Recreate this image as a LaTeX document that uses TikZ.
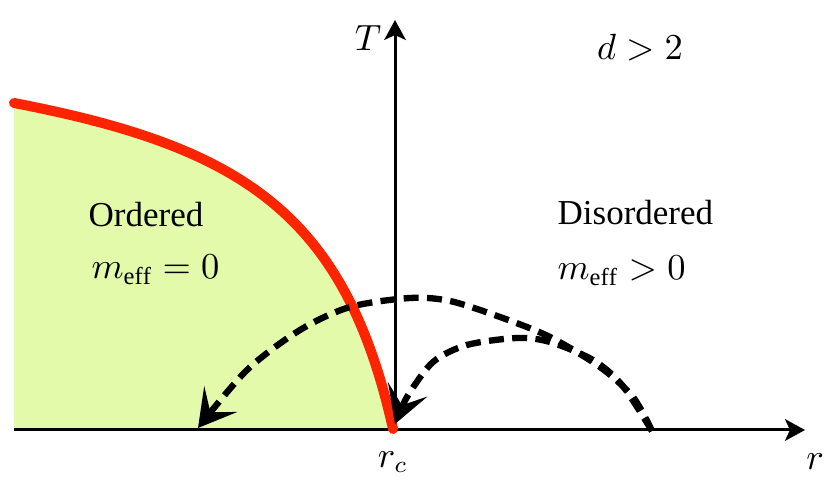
\documentclass[tikz,border=0pt]{standalone}
\usepackage{fontspec}
\setmainfont{Liberation Serif}
\usetikzlibrary{arrows.meta}
\definecolor{curvered}{RGB}{255,36,0}
\definecolor{ordfill}{RGB}{226,250,170}
\begin{document}
\begin{tikzpicture}[x=0.3pt,y=-0.3pt,
  axis/.style={line width=0.9pt, -{Stealth[length=6pt,width=6.5pt,inset=1.5pt]}},
  flow/.style={line width=1.9pt, dash pattern=on 4.5pt off 2.5pt, -{Stealth[length=11pt,width=12.5pt,inset=5pt]}},
  lbl/.style={inner sep=0pt, font=\fontsize{10.5}{12.6}\selectfont},
  crit/.style={line width=3pt, color=curvered, line cap=round},
]
\useasboundingbox (0,0) rectangle (830,489);
% coordinates
\coordinate (xstart) at (14,430);
\coordinate (xend) at (805,430);
\coordinate (origin) at (395,430);
\coordinate (yend) at (395,20);
\coordinate (rc) at (393,429);
\coordinate (ctop) at (14,103);
% ordered region
\fill[ordfill] (xstart) -- (ctop) .. controls (243,147) and (345,214) .. (rc) -- cycle;
% axes
\draw[axis] (xstart) -- (xend);
\draw[axis] (origin) -- (yend);
% critical line
\draw[crit] (ctop) .. controls (243,147) and (345,214) .. (rc);
% flows
\draw[flow] plot[smooth] coordinates {(652,431) (633,397) (600,367) (550,337) (500,317) (450,301) (410,298) (350,307) (300,330) (247,370) (198,428)};
\draw[flow] plot[smooth] coordinates {(652,431) (622,385) (593,360) (550,342) (517,338) (467,345) (433,362) (407,397) (395,424)};
% labels
\node[lbl] (Tlab) at (368,38) {$T$};
\node[lbl] (rlab) at (815,462) {$r$};
\node[lbl] (rclab) at (393,462) {$r_c$};
\node[lbl] (dlab) at (640,48) {$d>2$};
\node[lbl, anchor=base west] (ord) at (88,227) {Ordered};
\node[lbl, anchor=base west] (ordm) at (91,279) {$m_{\mathrm{eff}}=0$};
\node[lbl, anchor=base west] (dis) at (557,225) {Disordered};
\node[lbl, anchor=base west] (dism) at (557,280) {$m_{\mathrm{eff}}>0$};
\end{tikzpicture}
\end{document}
